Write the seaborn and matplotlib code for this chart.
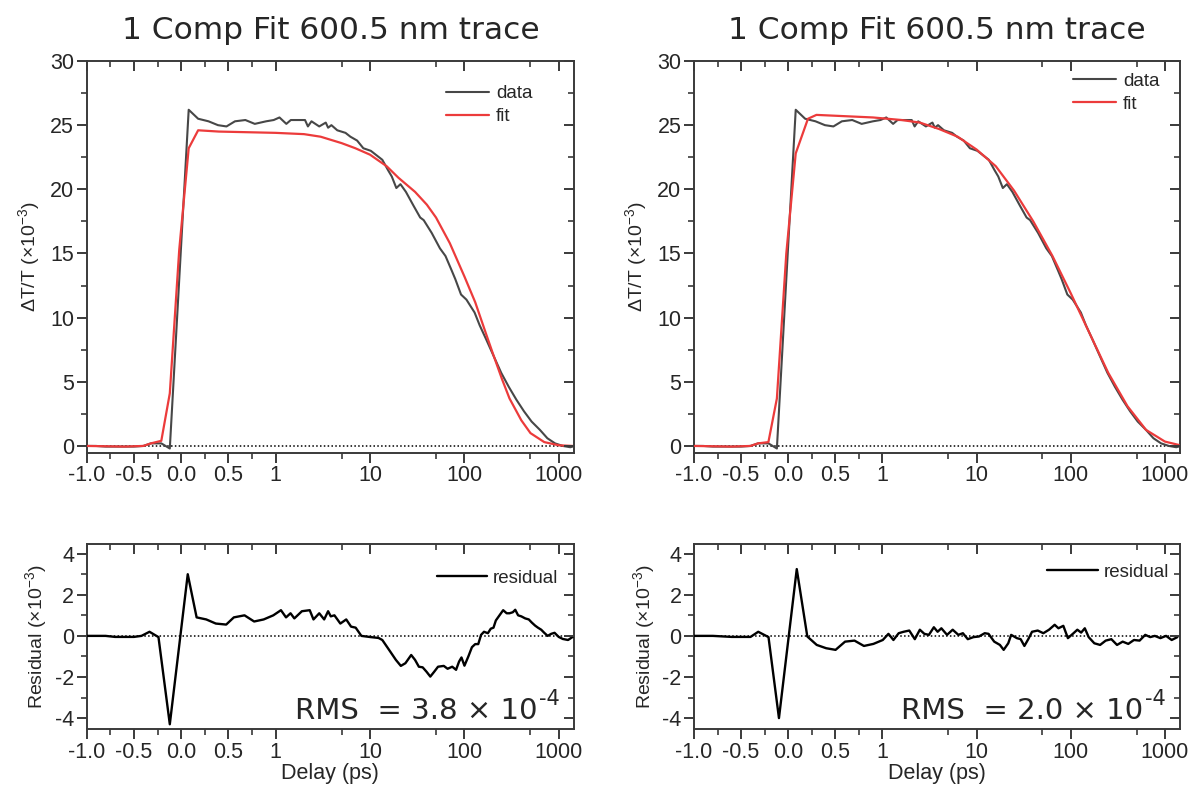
import numpy as np
import pandas as pd
import matplotlib
matplotlib.use("Agg")
import matplotlib.pyplot as plt
import seaborn as sns

# ---------------- data ----------------
DATA_X = [-1.0, -0.9, -0.8, -0.7, -0.6, -0.5, -0.4, -0.32, -0.21, -0.12, 0.08, 0.18, 0.29, 0.39, 0.48,
          0.57, 0.68, 0.78, 0.90, 0.98,
          1.1, 1.3, 1.45, 1.75, 2.05, 2.2, 2.4, 2.9, 3.4, 3.6, 3.9, 4.5, 5.5, 6.2, 7.3, 8.5, 10.2, 11.5,
          13.5, 15.5, 17, 19, 21, 24, 29, 34, 37, 45, 55, 63, 73, 80, 92, 105, 128, 145, 170, 204, 245,
          295, 355, 427, 514, 630, 755, 910, 1100, 1320, 1400]
DATA_Y = [0, 0, -0.05, -0.05, -0.05, -0.05, 0, 0.2, 0.2, -0.2, 26.2, 25.5, 25.3, 25.0, 24.9,
          25.3, 25.4, 25.1, 25.3, 25.4,
          25.6, 25.1, 25.4, 25.4, 25.4, 24.9, 25.3, 24.9, 25.2, 24.8, 25.0, 24.6, 24.4, 24.1, 23.8, 23.2,
          23.0, 22.7, 22.3, 21.5, 21.0, 20.1, 20.4, 19.8, 18.7, 17.8, 17.6, 16.6, 15.4, 14.8, 13.7, 13.0,
          11.8, 11.4, 10.4, 9.4, 8.3, 7.0, 5.7, 4.6, 3.6, 2.7, 1.9, 1.25, 0.6, 0.2, 0.0, -0.1, -0.05]

FIT1_X = [-1.0, -0.6, -0.4, -0.32, -0.21, -0.12, -0.02, 0.08, 0.18, 0.4, 0.7, 1.0, 2, 3, 5, 7, 10, 15,
          20, 30, 40, 50, 70, 100, 130, 170, 200, 250, 300, 400, 500, 700, 1000, 1400]
FIT1_Y = [0, -0.05, 0.0, 0.2, 0.4, 4.1, 15.3, 23.2, 24.6, 24.5, 24.45, 24.4, 24.3, 24.1, 23.6, 23.2,
          22.7, 21.8, 20.9, 19.8, 18.8, 17.8, 15.8, 13.2, 11.2, 8.7, 7.2, 5.2, 3.7, 2.0, 1.0, 0.3, 0.05, 0.0]

FIT2_X = [-1.0, -0.6, -0.4, -0.32, -0.21, -0.12, -0.02, 0.08, 0.21, 0.3, 0.6, 0.9, 1.6, 2.5, 4, 6.3,
          10, 16, 25, 40, 64, 100, 158, 250, 400, 630, 1000, 1400]
FIT2_Y = [0, -0.05, 0, 0.2, 0.3, 3.7, 15.0, 22.8, 25.5, 25.8, 25.7, 25.6, 25.4, 25.2, 24.7, 24.1,
          23.1, 21.8, 19.9, 17.5, 14.8, 11.9, 8.8, 5.7, 3.1, 1.25, 0.34, 0.08]

RES1_X = [-1.0, -0.8, -0.7, -0.5, -0.42, -0.335, -0.24, -0.12, 0.07, 0.164, 0.266, 0.367, 0.477, 0.558,
          0.671, 0.773, 0.874, 0.976, 1.14, 1.29, 1.44, 1.58, 1.9, 2.3, 2.52, 2.9, 3.27, 3.6, 3.84, 4.2,
          4.85, 5.6, 6.3, 7.05, 8.1, 10.2, 12.3, 13.5, 16.3, 18.8, 21.2, 23.7, 27.3, 30, 32.9, 36.1,
          39.6, 43.5, 47.9, 52.5, 60.4, 66.3, 74.2, 81.5, 87.7, 93, 100, 110, 120, 130, 140, 150, 161,
          177, 190, 203, 215, 235, 257, 280, 300, 325, 345, 370, 400, 440, 480, 516, 560, 600, 650,
          700, 760, 830, 900, 995, 1100, 1250, 1400]
RES1_Y = [0, 0, -0.05, -0.05, 0.0, 0.2, -0.06, -4.3, 3.0, 0.9, 0.8, 0.6, 0.55, 0.9,
          1.0, 0.7, 0.8, 1.0, 1.25, 0.9, 1.1, 0.85, 1.2, 1.25, 0.8, 1.1, 0.8, 1.2, 0.95, 1.0,
          0.6, 0.8, 0.45, 0.4, 0.0, -0.06, -0.1, -0.2, -0.75, -1.17, -1.46, -1.33, -0.93, -1.17, -1.5, -1.53,
          -1.74, -1.98, -1.74, -1.5, -1.46, -1.6, -1.5, -1.65, -1.25, -1.05, -1.45, -1.0, -0.55, -0.4, -0.4, 0.05, 0.2,
          0.13, 0.35, 0.4, 0.75, 1.0, 1.25, 1.1, 1.1, 1.15, 1.27, 1.0, 0.95, 0.85, 0.8, 0.65, 0.5, 0.4, 0.3,
          0.15, 0.0, 0.1, 0.15, -0.05, -0.15, -0.2, -0.05]

RES2_X = [-1.0, -0.8, -0.6, -0.4, -0.318, -0.209, -0.098, 0.091, 0.203, 0.303, 0.403, 0.503, 0.604,
          0.704, 0.804, 0.905, 1.01, 1.16, 1.31, 1.49, 1.68, 1.93, 2.21, 2.5, 2.79, 3.12, 3.52, 3.86,
          4.23, 4.86, 5.58, 6.41, 7.16, 8.07, 9.27, 10.6, 12.2, 13.4, 15.4, 17.7, 19.4, 21.7, 23.3,
          26.8, 29.4, 32.2, 35.4, 38.8, 44.6, 51.2, 58.8, 67.5, 74, 83.4, 93.3, 107, 117.5, 129, 141,
          155, 178, 205, 235, 270, 310, 356, 408, 469, 538, 618, 698, 780, 895, 1028, 1180, 1355]
RES2_Y = [0, 0, -0.05, -0.05, 0.2, -0.06, -4.0, 3.25, -0.03, -0.44, -0.6, -0.68, -0.28,
          -0.23, -0.49, -0.39, -0.2, 0.1, -0.2, 0.13, 0.2, 0.26, -0.16, 0.3, 0.1, 0.05, 0.42, 0.2,
          0.37, 0.05, 0.3, 0.05, 0.13, -0.16, -0.06, -0.03, 0.13, 0.1, -0.28, -0.44, -0.68, -0.36, 0.05,
          -0.11, -0.16, -0.49, -0.16, 0.2, 0.26, 0.13, 0.3, 0.54, 0.37, 0.49, -0.11, 0.13, 0.3, 0.16, 0.37,
          -0.06, -0.36, -0.44, -0.23, -0.16, -0.44, -0.28, -0.39, -0.2, -0.23, 0.05, -0.06, 0.0, -0.11, 0.0, -0.2, -0.06]

MAJOR_X = [-1.0, -0.5, 0.0, 0.5, 1, 10, 100, 1000]
MAJOR_X_LABELS = ["-1.0", "-0.5", "0.0", "0.5", "1", "10", "100", "1000"]
MINOR_X = [-0.75, -0.25, 0.25, 0.75, 5, 50, 500]
TITLE = "1 Comp Fit 600.5 nm trace"
RMS_TEXTS = ["RMS  = 3.8 × 10", "RMS  = 2.0 × 10"]
RMS_EXP = "-4"

# ---------------- style ----------------
sns.set_theme(style="white")
plt.rcParams["font.family"] = ["Liberation Sans", "DejaVu Sans"]
plt.rcParams["mathtext.fontset"] = "custom"
plt.rcParams["mathtext.rm"] = "Liberation Sans"
plt.rcParams["mathtext.it"] = "Liberation Sans:italic"
plt.rcParams["axes.unicode_minus"] = False

DATA_COLOR = "#474747"
FIT_COLOR = "#ec3b3b"
SPINE_COLOR = "#3a3a3a"


def fwd(x):
    x = np.asarray(x, dtype=float)
    with np.errstate(divide="ignore", invalid="ignore"):
        lg = 1.0 + np.log10(np.where(x > 1, x, 1.0))
    return np.where(x <= 1, x, lg)


def inv(t):
    t = np.asarray(t, dtype=float)
    with np.errstate(over="ignore"):
        ex = 10.0 ** (np.where(t > 1, t, 1.0) - 1.0)
    return np.where(t <= 1, t, ex)


XLIM = (-1.0, float(inv(4.16)))
FS_TICK = 15.5
FS_LABEL = 14


def style_axes(ax, ylim, yticks, yminor, show_xlabel):
    ax.set_xscale("function", functions=(fwd, inv))
    ax.set_xlim(*XLIM)
    ax.set_ylim(*ylim)
    ax.set_xticks(MAJOR_X)
    ax.set_xticklabels(MAJOR_X_LABELS)
    ax.set_xticks(MINOR_X, minor=True)
    ax.set_yticks(yticks)
    ax.set_yticklabels([str(v) for v in yticks])
    ax.set_yticks(yminor, minor=True)
    ax.tick_params(which="major", direction="out", length=7, width=1.4, color=SPINE_COLOR,
                   labelsize=FS_TICK, pad=2, bottom=True, left=True, top=False, right=False)
    ax.tick_params(which="minor", direction="out", length=4, width=1.2, color=SPINE_COLOR,
                   bottom=True, left=True, top=False, right=False)
    for s in ax.spines.values():
        s.set_color(SPINE_COLOR)
        s.set_linewidth(1.4)
    ax.axhline(0, color="black", lw=1.1, ls=(0, (1, 1.5)), zorder=1)
    # mirrored ticks pointing inward
    tx = ax.twiny()
    tx.set_xscale("function", functions=(fwd, inv))
    tx.set_xlim(*XLIM)
    tx.set_xticks(MAJOR_X)
    tx.set_xticks(MINOR_X, minor=True)
    tx.tick_params(which="both", direction="in", color=SPINE_COLOR, labeltop=False, top=True)
    tx.tick_params(which="major", length=7, width=1.4)
    tx.tick_params(which="minor", length=4, width=1.2)
    ty = ax.twinx()
    ty.set_ylim(*ylim)
    ty.set_yticks(yticks)
    ty.set_yticks(yminor, minor=True)
    ty.tick_params(which="both", direction="in", color=SPINE_COLOR, labelright=False, right=True)
    ty.tick_params(which="major", length=7, width=1.4)
    ty.tick_params(which="minor", length=4, width=1.2)
    for t in (tx, ty):
        for s in t.spines.values():
            s.set_visible(False)
    if show_xlabel:
        ax.set_xlabel("Delay (ps)", fontsize=FS_TICK, labelpad=0)
    else:
        ax.set_xlabel("")


fig = plt.figure(figsize=(11.93, 7.90), dpi=100)

W = 1193.0
H = 790.0
panels = [
    (86.7, 574.0, FIT1_X, FIT1_Y, RES1_X, RES1_Y, RMS_TEXTS[0], (0.738, 0.938), (0.718, 0.86)),
    (694.0, 1180.0, FIT2_X, FIT2_Y, RES2_X, RES2_Y, RMS_TEXTS[1], (0.78, 0.97), (0.727, 0.895)),
]

data_df = pd.DataFrame({"delay": DATA_X, "signal": DATA_Y})

for (xl, xr, fx, fy, rx, ry, rms, leg_top, leg_bot) in panels:
    ax_top = fig.add_axes([xl / W, 1 - 453 / H, (xr - xl) / W, (453 - 61) / H])
    ax_bot = fig.add_axes([xl / W, 1 - 729 / H, (xr - xl) / W, (729 - 544) / H])

    ax_top.set_xscale("function", functions=(fwd, inv))
    ax_bot.set_xscale("function", functions=(fwd, inv))

    fit_df = pd.DataFrame({"delay": fx, "signal": fy})
    res_df = pd.DataFrame({"delay": rx, "res": ry})

    sns.lineplot(data=data_df, x="delay", y="signal", ax=ax_top, color=DATA_COLOR, lw=1.5,
                 label="data", estimator=None, sort=False, zorder=3)
    sns.lineplot(data=fit_df, x="delay", y="signal", ax=ax_top, color=FIT_COLOR, lw=1.6,
                 label="fit", estimator=None, sort=False, zorder=4)
    sns.lineplot(data=res_df, x="delay", y="res", ax=ax_bot, color="black", lw=1.7,
                 label="residual", estimator=None, sort=False, zorder=3)

    ax_top.set_ylabel(r"$\Delta$T/T ($\times$10$^{-3}$)", fontsize=FS_LABEL, labelpad=6)
    ax_bot.set_ylabel(r"Residual ($\times$10$^{-3}$)", fontsize=FS_LABEL, labelpad=4)

    ax_top.legend(loc="upper left", bbox_to_anchor=leg_top, frameon=False, fontsize=13.5,
                  handlelength=2.3, handletextpad=0.35, labelspacing=0.3, borderpad=0, borderaxespad=0)
    ax_bot.legend(loc="upper left", bbox_to_anchor=leg_bot, frameon=False, fontsize=13.5,
                  handlelength=2.7, handletextpad=0.3, borderpad=0, borderaxespad=0)

    style_axes(ax_top, (-0.55, 30), [0, 5, 10, 15, 20, 25, 30], [2.5, 7.5, 12.5, 17.5, 22.5, 27.5], False)
    style_axes(ax_bot, (-4.53, 4.47), [-4, -2, 0, 2, 4], [-3, -1, 1, 3], True)

    ax_top.set_title(TITLE, fontsize=22.5, pad=16, family="DejaVu Sans")
    rms_txt = ax_bot.text(0.925, 0.055, rms, transform=ax_bot.transAxes, ha="right", va="baseline",
                          fontsize=21, family="DejaVu Sans", zorder=5)
    ax_bot.annotate(RMS_EXP, xy=(1.0, 0.55), xycoords=rms_txt, xytext=(1, 0),
                    textcoords="offset points", ha="left", va="bottom",
                    fontsize=15, family="DejaVu Sans", zorder=5)

fig.savefig("out.png", dpi=100)
